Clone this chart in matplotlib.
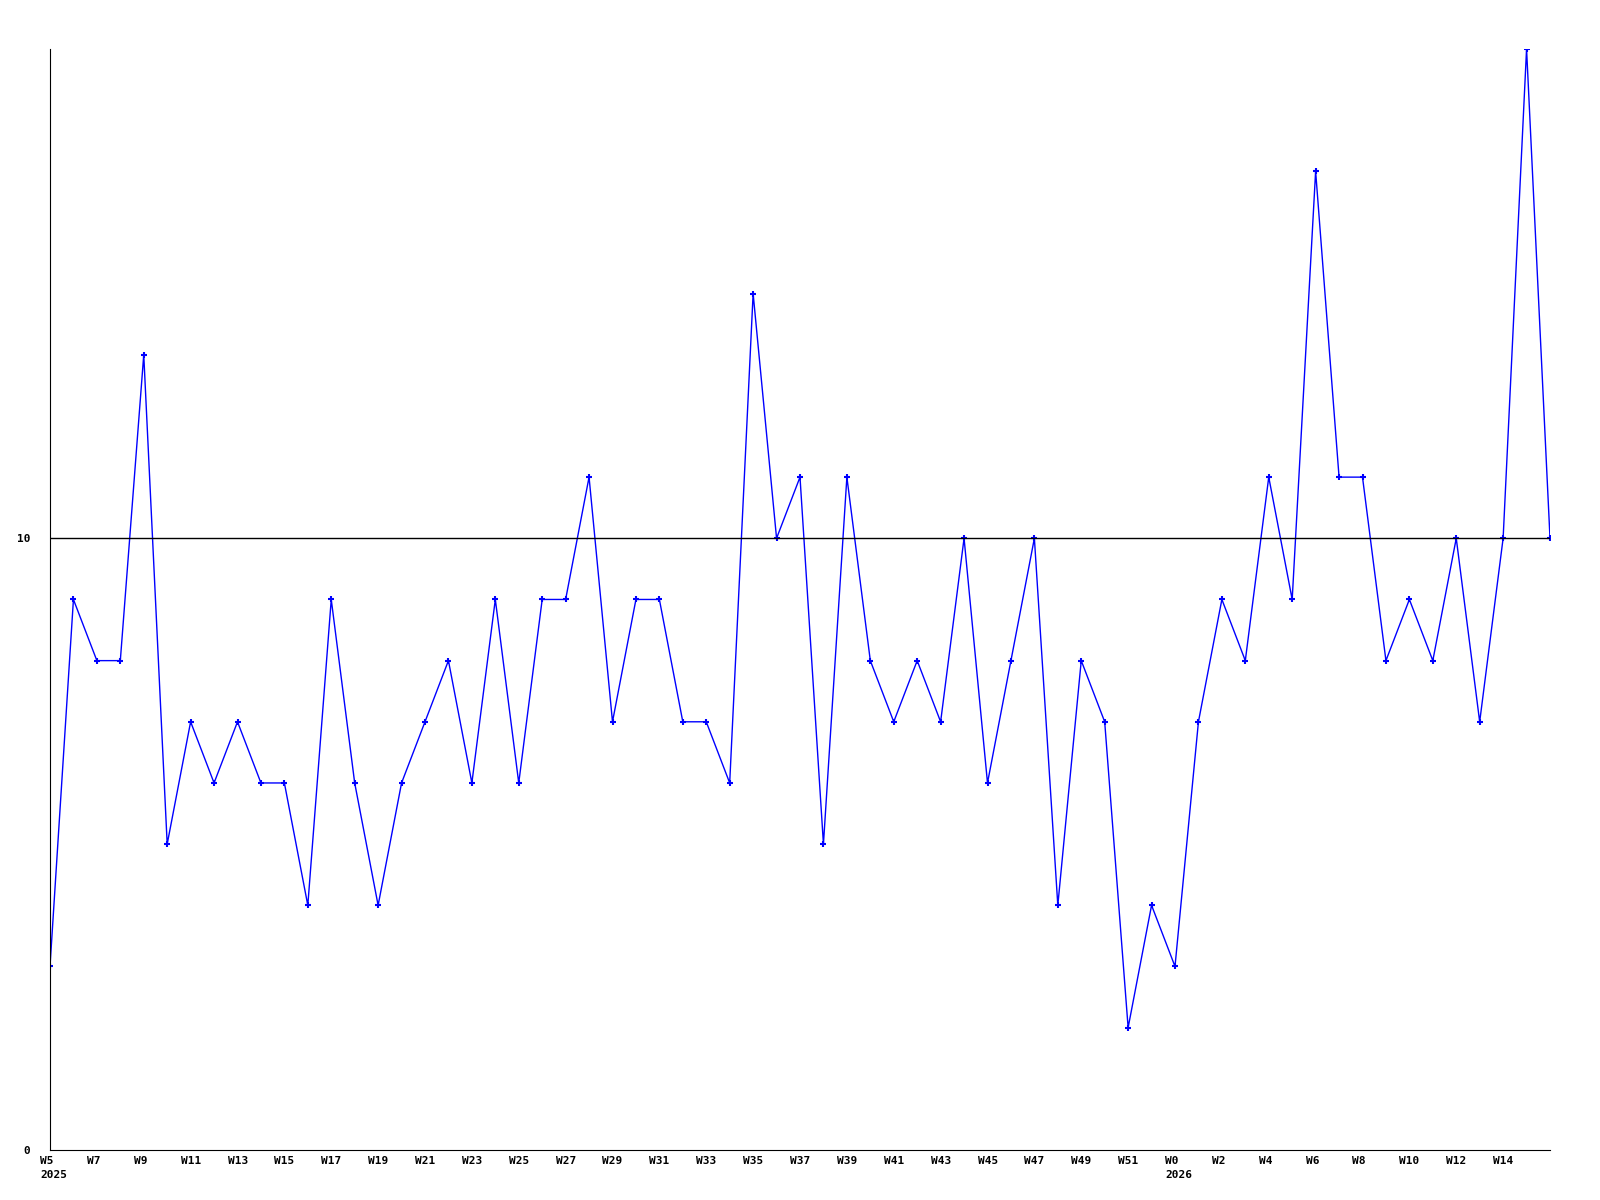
import matplotlib
matplotlib.use('Agg')
import matplotlib.pyplot as plt
import matplotlib.transforms as mtransforms

# weekly values, W5 2025 .. W16 2026
weeks = [f"W{w}" for w in range(5, 53)] + [f"W{w}" for w in range(0, 17)]
years = {0: "2025", 48: "2026"}
values = [3, 9, 8, 8, 13, 5, 7, 6, 7, 6, 6, 4, 9, 6, 4, 6, 7, 8, 6, 9,
          6, 9, 9, 11, 7, 9, 9, 7, 7, 6, 14, 10, 11, 5, 11, 8, 7, 8, 7, 10,
          6, 8, 10, 4, 8, 7, 2, 4, 3, 7, 9, 8, 11, 9, 16, 11, 11, 8, 9, 8,
          10, 7, 10, 18, 10]
ref_level = 10
y_ticks = [0, 10]

plt.rcParams['font.family'] = ['DejaVu Sans Mono']
fig = plt.figure(figsize=(16, 12), dpi=100)
ax = fig.add_axes([0.03125, 0.0417, 0.9375, 0.9175])

x = list(range(len(values)))
ax.plot(x, values, color='#0000ff', linewidth=1, marker='+', markersize=4,
        markeredgewidth=1.5)
ax.axhline(ref_level, color='black', linewidth=1)

ax.set_xlim(0, len(values) - 1)
ax.set_ylim(0, 18)
ax.set_yticks(y_ticks)
ax.set_yticklabels([str(t) for t in y_ticks], fontsize=8, fontweight='bold')

# every other week labelled, year under the first week of each year
ticks = list(range(0, len(values) - 1, 2))
labels = []
for i in ticks:
    lab = weeks[i]
    if i in years:
        lab = lab + "\n" + years[i]
    labels.append(lab)
ax.set_xticks(ticks)
ax.set_xticklabels(labels, fontsize=8, fontweight='bold', ha='left',
                   multialignment='left', linespacing=1.6)
ax.tick_params(axis='both', length=0)
ax.tick_params(axis='x', pad=4)
ax.tick_params(axis='y', pad=14)
offset = mtransforms.ScaledTranslation(-10 / 100, 0, fig.dpi_scale_trans)
for t in ax.get_xticklabels():
    t.set_transform(t.get_transform() + offset)

ax.spines['top'].set_visible(False)
ax.spines['right'].set_visible(False)

fig.savefig('out.png', dpi=100)
